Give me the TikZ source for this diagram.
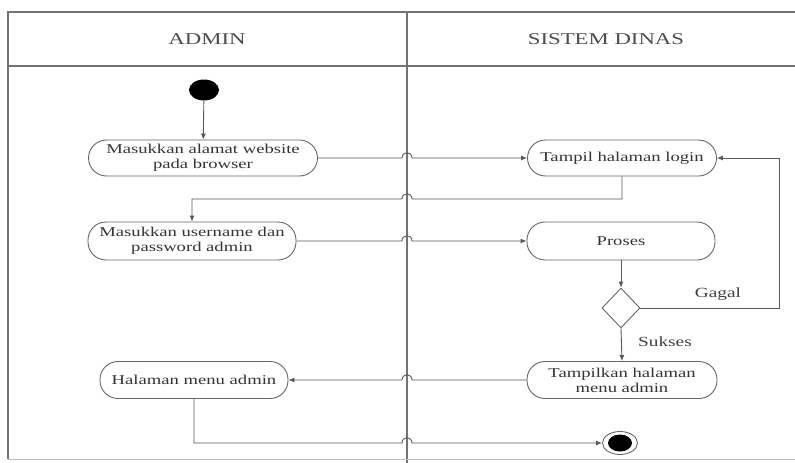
\documentclass[tikz,border=0pt]{standalone}
\usepackage{fontspec}
\setmainfont{Liberation Serif}[FakeStretch=1.38]
\usetikzlibrary{arrows.meta,shapes.geometric,calc}
\begin{document}
\begin{tikzpicture}[x=1pt,y=-1pt,
  frame/.style={draw=black!55, line width=1.1pt},
  line/.style={draw=black!65, line width=0.9pt},
  flow/.style={line, -{Latex[length=6pt,width=5pt]}},
  act/.style={draw=black!60, line width=0.9pt, rounded corners=18pt, align=center,
    font=\fontsize{13.5}{15}\selectfont, text=black!80, inner sep=0pt},
  hdr/.style={font=\fontsize{16.5}{18}\selectfont, text=black!70},
  lbl/.style={font=\fontsize{14}{16}\selectfont, text=black!75},
  decision/.style={diamond, draw=black!60, line width=0.9pt, minimum width=38pt, minimum height=40pt, inner sep=0pt, aspect=0.95}]
\useasboundingbox (0,0) rectangle (795,463);
% frame
\draw[frame] (8,459) -- (8,12) -- (795,12);
\draw[frame] (8,66) -- (795,66);
\draw[frame] (407,12) -- (407,463);
\draw[draw=black!25, line width=0.8pt] (8,459) -- (795,459);
\node[hdr] (hA) at (207,39) {ADMIN};
\node[hdr] (hS) at (606,39) {SISTEM DINAS};
% hop helpers
\coordinate (hl) at (402,0);
\coordinate (hr) at (412,0);
% nodes
\node[ellipse, fill=black, minimum width=30pt, minimum height=21pt, inner sep=0pt] (start) at (204,90) {};
\node[act, minimum width=229pt, minimum height=36pt] (a1) at (203,158) {Masukkan alamat website\\pada browser};
\node[act, minimum width=189pt, minimum height=36pt] (login) at (622,158) {Tampil halaman login};
\node[act, minimum width=208pt, minimum height=38pt] (a2) at (192,241) {Masukkan username dan\\password admin};
\node[act, minimum width=188pt, minimum height=38pt] (proses) at (621,241) {Proses};
\node[decision] (dec) at (621,308) {};
\node[act, minimum width=190pt, minimum height=37pt] (tmp) at (622,380) {Tampilkan halaman\\menu admin};
\node[act, minimum width=188pt, minimum height=37pt] (hal) at (194,380) {Halaman menu admin};
\node[ellipse, draw=black!60, line width=0.9pt, minimum width=35pt, minimum height=23pt, inner sep=0pt] (fin) at (620,443) {};
\node[ellipse, fill=black, minimum width=24pt, minimum height=17pt, inner sep=0pt] (finin) at (fin.center) {};
\node[lbl] (gagal) at (718,294) {Gagal};
\node[lbl] (sukses) at (665,342) {Sukses};
% connectors
\draw[flow] (start) -- (a1);
\draw[flow] (a1.east) -- (a1.east -| hl) .. controls +(0,-7) and +(0,-7) .. (a1.east -| hr) -- (login.west);
\coordinate (c1) at (622,199);
\draw[flow] (login.south) -- (c1) -- (c1 -| hr) .. controls +(0,-7) and +(0,-7) .. (c1 -| hl) -- (c1 -| a2.north) -- (a2.north);
\draw[flow] (a2.east) -- (a2.east -| hl) .. controls +(0,-7) and +(0,-7) .. (a2.east -| hr) -- (proses.west);
\draw[flow] (proses.south) -- (dec.north);
\coordinate (c2) at (779,308);
\draw[flow] (dec.east) -- (c2) -- (c2 |- login.east) -- (login.east);
\draw[flow] (dec.south) -- (tmp.north);
\draw[flow] (tmp.west) -- (tmp.west -| hr) .. controls +(0,-7) and +(0,-7) .. (tmp.west -| hl) -- (hal.east);
\draw[flow] (hal.south) -- (hal.south |- fin.west) -- (fin.west -| hl) .. controls +(0,-7) and +(0,-7) .. (fin.west -| hr) -- (fin.west);
\end{tikzpicture}
\end{document}
